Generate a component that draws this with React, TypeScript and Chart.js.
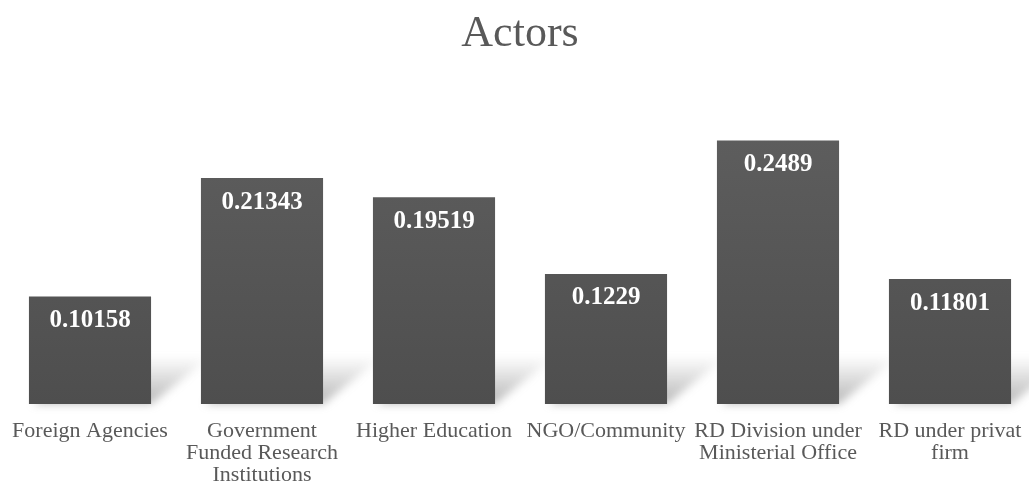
import React, { useEffect, useRef } from "react";
import { Chart, registerables } from "chart.js";

Chart.register(...registerables);

const categories: string[][] = [
  ["Foreign Agencies"],
  ["Government", "Funded Research", "Institutions"],
  ["Higher Education"],
  ["NGO/Community"],
  ["RD Division under", "Ministerial Office"],
  ["RD under privat", "firm"],
];
const values: number[] = [0.10158, 0.21343, 0.19519, 0.1229, 0.2489, 0.11801];
const valueLabels: string[] = ["0.10158", "0.21343", "0.19519", "0.1229", "0.2489", "0.11801"];

const FONT = "'Liberation Serif', 'Times New Roman', serif";

const shadowPlugin = {
  id: "barShadow",
  beforeDatasetsDraw(chart: any) {
    const ctx = chart.ctx;
    const meta = chart.getDatasetMeta(0);
    ctx.save();
    meta.data.forEach((bar: any) => {
      const half = bar.width / 2;
      const left = bar.x - half;
      const right = bar.x + half;
      const base = bar.base;
      const dx = 60;
      const dy = 48;
      const g = ctx.createLinearGradient(0, base, 0, base - dy);
      g.addColorStop(0, "rgba(110,110,110,0.5)");
      g.addColorStop(1, "rgba(110,110,110,0)");
      ctx.filter = "blur(4px)";
      ctx.fillStyle = g;
      ctx.beginPath();
      ctx.moveTo(left + 4, base);
      ctx.lineTo(right, base);
      ctx.lineTo(right + dx, base - dy);
      ctx.lineTo(left + dx, base - dy);
      ctx.closePath();
      ctx.fill();
    });
    ctx.restore();
  },
};

const labelPlugin = {
  id: "valueLabels",
  afterDatasetsDraw(chart: any) {
    const ctx = chart.ctx;
    const meta = chart.getDatasetMeta(0);
    ctx.save();
    ctx.fillStyle = "#ffffff";
    ctx.font = `bold 25px ${FONT}`;
    ctx.textAlign = "center";
    ctx.textBaseline = "middle";
    meta.data.forEach((bar: any, i: number) => {
      ctx.fillText(valueLabels[i], bar.x, bar.y + 24);
    });
    ctx.restore();
  },
};

export default function App() {
  const ref = useRef<HTMLCanvasElement | null>(null);
  useEffect(() => {
    document.body.style.margin = "0";
    document.body.style.overflow = "hidden";
    const canvas = ref.current;
    if (!canvas) return;
    const chart = new Chart(canvas, {
      type: "bar",
      data: {
        labels: categories,
        datasets: [
          {
            data: values,
            backgroundColor: (c: any) => {
              const area = c.chart.chartArea;
              if (!area) return "#545454";
              const g = c.chart.ctx.createLinearGradient(0, area.top, 0, area.bottom);
              g.addColorStop(0, "#606060");
              g.addColorStop(1, "#4e4e4e");
              return g;
            },
            borderWidth: 0,
            barPercentage: 0.71,
            categoryPercentage: 1,
          },
        ],
      },
      options: {
        animation: false,
        responsive: false,
        layout: { padding: { left: 4, right: 0, top: 0, bottom: 0 } },
        plugins: {
          legend: { display: false },
          tooltip: { enabled: false },
          title: {
            display: true,
            text: "Actors",
            color: "#595959",
            font: { family: FONT, size: 44, weight: "normal", lineHeight: 1.2 },
            padding: { top: 8, bottom: 25.6 },
          },
        },
        scales: {
          x: {
            grid: { display: false },
            border: { display: false },
            ticks: {
              color: "#595959",
              font: { family: FONT, size: 22, lineHeight: 1.0 },
              padding: 8,
              autoSkip: false,
              maxRotation: 0,
              minRotation: 0,
            },
          },
          y: {
            display: false,
            min: 0,
            max: 0.3,
          },
        },
      },
      plugins: [shadowPlugin, labelPlugin],
    });
    return () => chart.destroy();
  }, []);
  return (
    <div style={{ position: "fixed", left: 0, top: 0, width: 1036, height: 487, overflow: "hidden", background: "#ffffff" }}>
      <canvas ref={ref} width={1036} height={494} style={{ width: 1036, height: 494 }} />
    </div>
  );
}
